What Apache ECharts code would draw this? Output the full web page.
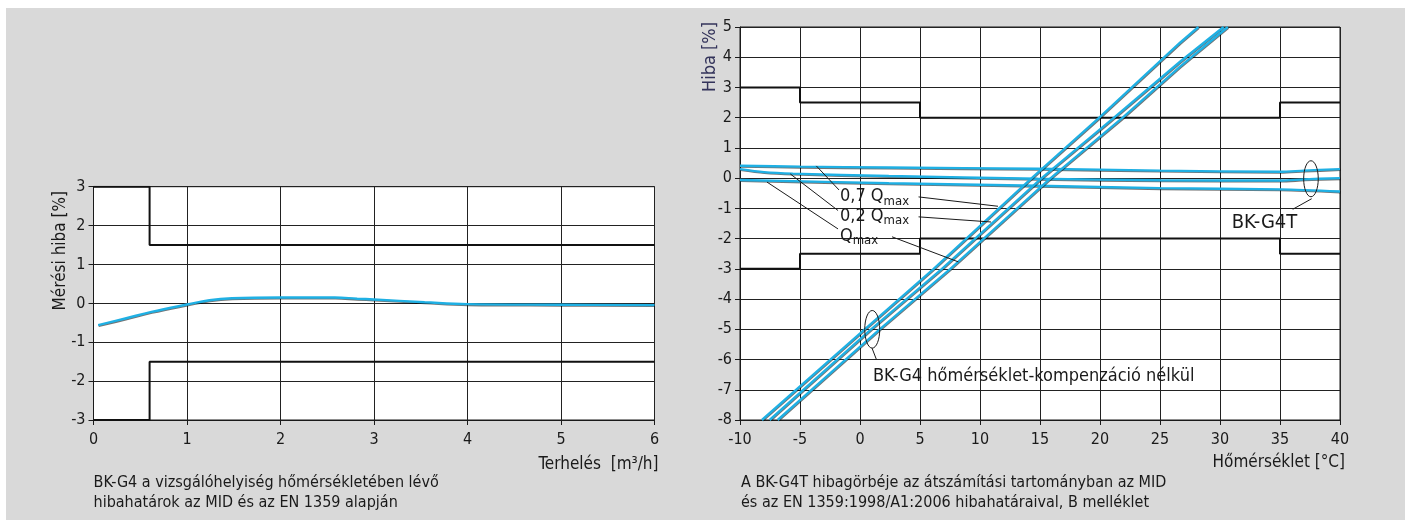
<!DOCTYPE html>
<html><head><meta charset="utf-8">
<script src="https://cdn.jsdelivr.net/npm/echarts@6/dist/echarts.min.js"></script>
<style>
html,body{margin:0;padding:0;background:#fff;}
#bg{position:absolute;left:6px;top:8px;width:1399px;height:512px;background:#d9d9d9;}
#chart{position:absolute;left:0;top:0;width:1408px;height:520px;}
</style></head><body>
<div id="bg"></div><div id="chart"></div>
<script>
// ---------- data: left chart (load) ----------
const loadTicks = [0, 1, 2, 3, 4, 5, 6];
const loadErrTicks = [-3, -2, -1, 0, 1, 2, 3];
const loadLimitX = [0, 0.6, 0.6, 6];
const loadUpper = [3, 3, 1.5, 1.5];
const loadLower = [-3, -3, -1.5, -1.5];
const loadX = [0.05, 0.34, 0.62, 1.0, 1.24, 1.48, 2.0, 2.58, 2.82, 3.0, 3.54, 4.0, 5.0, 6.0];
const loadErr = [-0.56, -0.39, -0.22, -0.03, 0.08, 0.13, 0.15, 0.15, 0.12, 0.1, 0.03, -0.02, -0.035, -0.045];

// ---------- data: right chart (temperature) ----------
const tempTicks = [-10, -5, 0, 5, 10, 15, 20, 25, 30, 35, 40];
const tempErrTicks = [-8, -7, -6, -5, -4, -3, -2, -1, 0, 1, 2, 3, 4, 5];
const tempLimitX = [-10, -5, -5, 5, 5, 35, 35, 40];
const tempUpper = [3, 3, 2.5, 2.5, 2, 2, 2.5, 2.5];
const tempLower = [-3, -3, -2.5, -2.5, -2, -2, -2.5, -2.5];
// BK-G4T (compensated), three load points
const g4tAx = [-10, -5, 2.4, 14.8, 25, 35, 37, 40];
const g4tAy = [0.41, 0.38, 0.35, 0.31, 0.25, 0.21, 0.25, 0.3];
const g4tBx = [-10, -8, -5.6, 2.4, 14.8, 25, 35, 37, 40];
const g4tBy = [0.3, 0.2, 0.15, 0.07, -0.02, -0.07, -0.08, -0.04, 0.0];
const g4tCx = [-10, 2.4, 14.8, 25, 35, 40];
const g4tCy = [-0.06, -0.17, -0.25, -0.33, -0.37, -0.44];
// BK-G4 without temperature compensation
const g4L1x = [-8.17, 0.39, 6.14, 14.31, 19.94, 26.67, 28.2];
const g4L1y = [-8, -5, -3, 0, 2, 4.48, 5];
const g4L2x = [-7.53, 0.92, 6.83, 15.14, 21.17, 26.67, 30.3];
const g4L2y = [-8, -5, -3, 0, 2, 3.85, 5];
const g4L3x = [-6.86, 1.64, 7.53, 15.89, 21.89, 26.67, 30.65];
const g4L3y = [-8, -5, -3, 0, 2, 3.69, 5];

// ---------- texts ----------
const leftYName = 'Mérési hiba [%]';
const leftXName = 'Terhelés  [m³/h]';
const leftCaption = ['BK-G4 a vizsgálóhelyiség hőmérsékletében lévő', 'hibahatárok az MID és az EN 1359 alapján'];
const rightYName = 'Hiba [%]';
const rightXName = 'Hőmérséklet [°C]';
const rightCaption = ['A BK-G4T hibagörbéje az átszámítási tartományban az MID', 'és az EN 1359:1998/A1:2006 hibahatáraival, B melléklet'];
const qLabels = ['0,7 Q', '0,2 Q', 'Q'];
const qLabelPos = [[-1.67, -0.6], [-1.67, -1.25], [-1.67, -1.91]];
const qLeaders = [
  [-3.64, 0.405, -1.75, -0.39], [-5.81, 0.14, -1.83, -1.07], [-7.75, -0.13, -1.83, -1.68],
  [4.88, -0.62, 11.5, -0.93], [4.88, -1.28, 10.92, -1.45], [2.67, -1.94, 8.2, -2.77]
];
const g4tLabel = 'BK-G4T';
const g4tLabelPos = [30.97, -1.48];
const g4tEllipse = [37.58, -0.02];
const g4tLeader = [36.06, -1.03, 37.64, -0.68];
const g4Label = 'BK-G4 hőmérséklet-kompenzáció nélkül';
const g4LabelPos = [1.08, -6.54];
const g4Ellipse = [1.02, -5.0];
const g4Leader = [1.0, -5.62, 1.36, -5.99];

const F = "'DejaVu Sans Condensed', 'DejaVu Sans', sans-serif";
const INK = '#1a1a1a';
const BLUE = '#1fb0e4';
const G1 = {left: 93.5, top: 186.7, width: 561, height: 233.3};
const G2 = {left: 740, top: 27, width: 600, height: 393};

const pts = (xs, ys) => xs.map((x, i) => [x, ys[i]]);
const step = a => a[1] - a[0];

function axisCommon() {
  return {
    type: 'value',
    axisLine: {show: true, onZero: false, lineStyle: {color: INK, width: 1}},
    axisTick: {show: true, length: 5, lineStyle: {color: INK, width: 1}},
    splitLine: {show: true, lineStyle: {color: '#222', width: 1}},
    axisLabel: {color: INK, fontSize: 16, fontFamily: F}
  };
}
function mkX(grid, ticks) {
  const a = axisCommon();
  return Object.assign(a, {gridIndex: grid, min: ticks[0], max: ticks[ticks.length - 1], interval: step(ticks),
    axisLabel: Object.assign(a.axisLabel, {margin: 12})});
}
function mkY(grid, ticks) {
  const a = axisCommon();
  return Object.assign(a, {gridIndex: grid, min: ticks[0], max: ticks[ticks.length - 1], interval: step(ticks),
    axisLabel: Object.assign(a.axisLabel, {margin: 8})});
}
const limitStyle = {color: '#111', width: 2};
const blueStyle = {color: BLUE, width: 2.4, shadowColor: 'rgba(0,0,0,0.55)', shadowBlur: 0, shadowOffsetX: 0.5, shadowOffsetY: 0.8};
function ser(g, data, style, smooth, z) {
  return {type: 'line', xAxisIndex: g, yAxisIndex: g, data: data, symbol: 'none', smooth: smooth || false,
    lineStyle: style, silent: true, z: z || 2, clip: true};
}

const chart = echarts.init(document.getElementById('chart'), null, {renderer: 'canvas'});
chart.setOption({
  animation: false,
  backgroundColor: 'transparent',
  grid: [
    Object.assign({show: true, backgroundColor: '#fff', borderColor: INK, borderWidth: 1}, G1),
    Object.assign({show: true, backgroundColor: '#fff', borderColor: INK, borderWidth: 1}, G2)
  ],
  xAxis: [mkX(0, loadTicks), mkX(1, tempTicks)],
  yAxis: [mkY(0, loadErrTicks), mkY(1, tempErrTicks)],
  series: [
    ser(0, pts(loadLimitX, loadUpper), limitStyle),
    ser(0, pts(loadLimitX, loadLower), limitStyle),
    ser(0, pts(loadX, loadErr), blueStyle, 0.4, 3),
    ser(1, pts(tempLimitX, tempUpper), limitStyle),
    ser(1, pts(tempLimitX, tempLower), limitStyle),
    ser(1, pts(g4tAx, g4tAy), blueStyle, 0.3, 3),
    ser(1, pts(g4tBx, g4tBy), blueStyle, 0.3, 3),
    ser(1, pts(g4tCx, g4tCy), blueStyle, 0.3, 3),
    ser(1, pts(g4L1x, g4L1y), blueStyle, false, 4),
    ser(1, pts(g4L2x, g4L2y), blueStyle, false, 4),
    ser(1, pts(g4L3x, g4L3y), blueStyle, false, 4)
  ]
});

const P = (g, x, y) => chart.convertToPixel({gridIndex: g}, [x, y]);
const gfx = [];
function txt(x, y, text, size, opts) {
  gfx.push(Object.assign({type: 'text', x: x, y: y, z: 50, silent: true,
    style: {text: text, fontSize: size, fontFamily: F, fill: INK, align: 'left', verticalAlign: 'middle'}}, opts || {}));
}
function seg(a, b, c, d) {
  const p1 = P(1, a, b), p2 = P(1, c, d);
  gfx.push({type: 'line', z: 50, silent: true, shape: {x1: p1[0], y1: p1[1], x2: p2[0], y2: p2[1]},
    style: {stroke: INK, lineWidth: 1}});
}
function ell(c, rx, ry) {
  const p = P(1, c[0], c[1]);
  gfx.push({type: 'ellipse', z: 50, silent: true, shape: {cx: p[0], cy: p[1], rx: rx, ry: ry},
    style: {fill: 'none', stroke: INK, lineWidth: 1}});
}

// axis names and captions (left)
const g1r = G1.left + G1.width, g1b = G1.top + G1.height;
gfx.push({type: 'text', z: 50, x: G1.left - 32.5, y: G1.top + 64, rotation: Math.PI / 2, silent: true,
  style: {text: leftYName, fontSize: 17, fontFamily: F, fill: INK, align: 'center', verticalAlign: 'middle'}});
gfx.push({type: 'text', z: 50, x: g1r + 4, y: g1b + 45, silent: true,
  style: {text: leftXName, fontSize: 17, fontFamily: F, fill: INK, align: 'right', verticalAlign: 'middle'}});
txt(G1.left, g1b + 62.5, leftCaption[0], 16);
txt(G1.left, g1b + 82.5, leftCaption[1], 16);

// axis names and captions (right)
const g2r = G2.left + G2.width, g2b = G2.top + G2.height;
gfx.push({type: 'text', z: 50, x: G2.left - 30, y: G2.top + 30, rotation: Math.PI / 2, silent: true,
  style: {text: rightYName, fontSize: 18, fontFamily: F, fill: '#33335a', align: 'center', verticalAlign: 'middle'}});
gfx.push({type: 'text', z: 50, x: g2r + 5, y: g2b + 43, silent: true,
  style: {text: rightXName, fontSize: 17, fontFamily: F, fill: INK, align: 'right', verticalAlign: 'middle'}});
txt(G2.left + 1, g2b + 62.5, rightCaption[0], 16);
txt(G2.left + 1, g2b + 82.5, rightCaption[1], 16);

// Q annotations
qLabels.forEach((q, i) => {
  const p = P(1, qLabelPos[i][0], qLabelPos[i][1]);
  gfx.push({type: 'text', z: 55, x: p[0], y: p[1], silent: true,
    style: {text: '{a|' + q + '}{b|max}', fontFamily: F, fill: INK, align: 'left', verticalAlign: 'middle',
      rich: {a: {fontSize: 18, fontFamily: F, fill: INK}, b: {fontSize: 13, fontFamily: F, fill: INK, padding: [10, 0, 0, 0]}}}});
});
qLeaders.forEach(l => seg(l[0], l[1], l[2], l[3]));

// BK-G4T annotation
ell(g4tEllipse, 7.3, 18);
seg(g4tLeader[0], g4tLeader[1], g4tLeader[2], g4tLeader[3]);
(function () { const p = P(1, g4tLabelPos[0], g4tLabelPos[1]); txt(p[0], p[1], g4tLabel, 20); })();

// BK-G4 annotation
ell(g4Ellipse, 7.5, 18.8);
seg(g4Leader[0], g4Leader[1], g4Leader[2], g4Leader[3]);
(function () { const p = P(1, g4LabelPos[0], g4LabelPos[1]); txt(p[0], p[1], g4Label, 18); })();

chart.setOption({graphic: gfx});
</script>
</body></html>
